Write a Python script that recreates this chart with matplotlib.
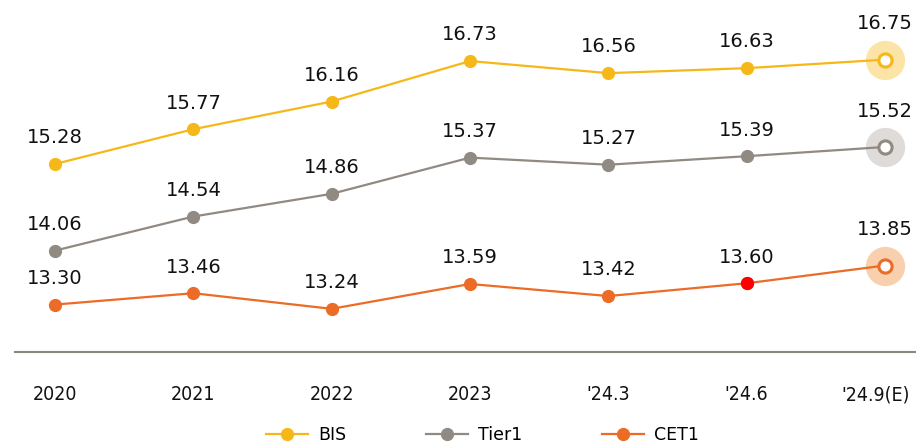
import matplotlib.pyplot as plt
import matplotlib.transforms as mtransforms
from matplotlib.lines import Line2D

categories = ["2020", "2021", "2022", "2023", "'24.3", "'24.6", "'24.9(E)"]
bis = [15.28, 15.77, 16.16, 16.73, 16.56, 16.63, 16.75]
tier1 = [14.06, 14.54, 14.86, 15.37, 15.27, 15.39, 15.52]
cet1 = [13.30, 13.46, 13.24, 13.59, 13.42, 13.60, 13.85]

series = [
    ("BIS", bis, "#F6B819", "#FCE4A6"),
    ("Tier1", tier1, "#918A83", "#DEDBD8"),
    ("CET1", cet1, "#EC6B26", "#F9D0AE"),
]

fig = plt.figure(figsize=(9.16, 4.44), dpi=100)
ax = fig.add_axes([15/916, (444-352)/444, 901/916, 352/444])
x = list(range(len(categories)))

for name, vals, col, halo in series:
    ax.plot(x, vals, color=col, lw=1.6, zorder=2)
    ax.plot(x[:-1], vals[:-1], 'o', color=col, ms=8.5, zorder=3)
    ax.scatter([x[-1]], [vals[-1]], s=800, color=halo, zorder=1, linewidths=0)
    ax.plot([x[-1]], [vals[-1]], 'o', mfc='white', mec=col, mew=2.2, ms=9.5, zorder=4)
    for i, (xi, v) in enumerate(zip(x, vals)):
        off = 19 if i == len(x) - 1 else 12
        ax.annotate(f"{v:.2f}", (xi, v), xytext=(0, off), textcoords='offset points',
                    ha='center', va='bottom', fontsize=14, color='#111111')

# red highlighted point
ax.plot([5], [cet1[5]], 'o', color='#FF0000', ms=8.5, zorder=5)

ax.set_xlim(-0.289, 6.224)
ax.set_ylim(12.632, 17.59)
for s in ['top', 'right', 'left']:
    ax.spines[s].set_visible(False)
ax.spines['bottom'].set_color('#8A877D')
ax.spines['bottom'].set_linewidth(1.5)
ax.set_yticks([])
ax.set_xticks(x)
ax.set_xticklabels(categories, fontsize=14, color='#111111', fontstretch='condensed')
ax.tick_params(axis='x', length=0, pad=24)
last = ax.get_xticklabels()[-1]
last.set_transform(last.get_transform() +
                   mtransforms.ScaledTranslation(-9/100, 0, fig.dpi_scale_trans))

handles = [Line2D([0], [0], color=c, lw=1.6, marker='o', ms=8.5) for _, _, c, _ in series]
fig.legend(handles, [s[0] for s in series], loc='center', ncol=3,
           bbox_to_anchor=(0.527, 1 - 435/444), frameon=False, fontsize=12.5,
           handlelength=2.4, columnspacing=4.6, handletextpad=0.6)

fig.savefig("out.png", dpi=100)
